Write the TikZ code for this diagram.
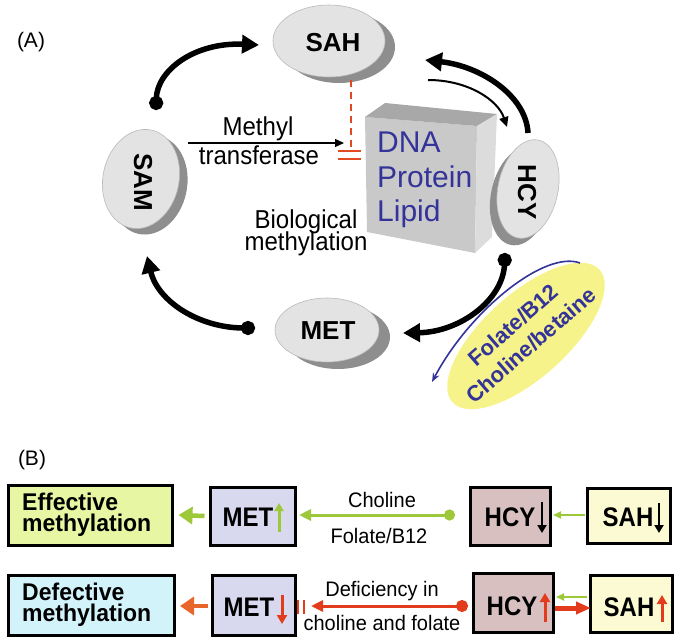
\documentclass[tikz,border=0pt]{standalone}
\usepackage{fontspec}
\setmainfont{Liberation Sans}
\usetikzlibrary{arrows.meta,shapes.geometric,calc}
\definecolor{ellfill}{HTML}{E3E3E3}
\definecolor{ellshadow}{HTML}{8E8E8E}
\definecolor{dnablue}{HTML}{333399}
\definecolor{inhred}{HTML}{E04A22}
\definecolor{lime}{HTML}{9CC83A}
\definecolor{orng}{HTML}{E8662A}
\definecolor{bred}{HTML}{E23C1C}
\definecolor{yell}{HTML}{F6F38A}
\definecolor{boxfront}{HTML}{C9C9C9}
\definecolor{boxtop}{HTML}{A8A8A8}
\definecolor{boxside}{HTML}{DCDCDC}
\definecolor{effill}{HTML}{E6F6A2}
\definecolor{defill}{HTML}{D3F3FA}
\definecolor{metfill}{HTML}{D8D9EF}
\definecolor{hcyfill}{HTML}{D9C0C0}
\definecolor{sahfill}{HTML}{FBFAD2}
\begin{document}
\begin{tikzpicture}[x=1pt,y=-1pt,
  ell/.style={ellipse, draw=gray!55, line width=0.6pt, fill=ellfill, inner sep=0pt},
  ellsh/.style={ellipse, fill=ellshadow, inner sep=0pt},
  elltxt/.style={font=\fontsize{26}{26}\selectfont\bfseries, inner sep=0pt},
  dotarrow/.style={line width=5.5pt, {Circle[length=14pt]}-{Triangle[length=17pt,width=18pt]}},
  thickarrow/.style={line width=5.5pt, -{Triangle[length=17pt,width=18pt]}},
  lbl/.style={font=\fontsize{24}{22}\selectfont, inner sep=0pt, yscale=1.08},
  bbox/.style={draw=black, line width=3pt, inner sep=0pt},
  btxt/.style={font=\fontsize{24}{24}\selectfont\bfseries, inner sep=0pt, yscale=1.12},
  blbl/.style={font=\fontsize{20}{20}\selectfont, inner sep=0pt, yscale=1.05},
  ytxt/.style={font=\fontsize{22}{27}\selectfont\bfseries, text=dnablue, rotate=41, inner sep=0pt, align=center},
]
\useasboundingbox (0,0) rectangle (679,644);

% ---------- (A) ----------
\node[font=\fontsize{21}{21}\selectfont, inner sep=0pt] (labA) at (31,42) {(A)};

% central 3D box
\fill[boxfront] (365,117) -- (477,126) -- (475,253) -- (367,232) -- cycle;
\fill[boxtop] (365,117) -- (385,103) -- (497,114) -- (477,126) -- cycle;
\fill[boxside] (477,126) -- (497,114) -- (492,237) -- (475,253) -- cycle;
\node[anchor=base west, font=\fontsize{30}{30}\selectfont, text=dnablue, inner sep=0pt] (dna) at (377,153) {DNA};
\node[anchor=base west, font=\fontsize{30}{30}\selectfont, text=dnablue, inner sep=0pt] (prot) at (377,188) {Protein};
\node[anchor=base west, font=\fontsize{30}{30}\selectfont, text=dnablue, inner sep=0pt] (lip) at (377,222) {Lipid};

% yellow ellipse
\node[ellipse, fill=yell, minimum width=198, minimum height=84, rotate=42, inner sep=0pt] (yel) at (526,336) {};
\node[ytxt] (fol) at (522,335) {Folate/B12\\Choline/betaine};

% ellipses
\node[ellsh, minimum width=112, minimum height=72] (sahsh) at (339,47) {};
\node[ell, minimum width=112, minimum height=72] (sah) at (329,41) {};
\node[elltxt] (sahtxt) at (333,43) {SAH};

\node[ellsh, minimum width=76, minimum height=100, rotate=-12] (samsh) at (149,185) {};
\node[ell, minimum width=76, minimum height=100, rotate=-12] (sam) at (141,179) {};
\node[elltxt, rotate=-90] (samtxt) at (143,182) {SAM};

\node[ellsh, minimum width=60, minimum height=100, rotate=-12] (hcysh) at (521,196) {};
\node[ell, minimum width=60, minimum height=100, rotate=-12] (hcy) at (528,189) {};
\node[elltxt, rotate=-90] (hcytxt) at (527,192) {HCY};

\node[ellsh, minimum width=104, minimum height=64] (metsh) at (338,337) {};
\node[ell, minimum width=104, minimum height=64] (met) at (327,330) {};
\node[elltxt] (mettxt) at (328,331) {MET};

% methyl transferase arrow
\coordinate (mtA) at (188,143);
\coordinate (mtB) at (344,143);
\draw[line width=1.4pt, -{Triangle[length=9pt,width=8pt]}] (mtA) -- (mtB);
\node[lbl, anchor=base] (methyl) at (258,136) {Methyl};
\node[lbl, anchor=base] (transf) at (259,165) {transferase};
\node[lbl, anchor=base] (bio) at (306,229) {Biological};
\node[lbl, anchor=base] (bmeth) at (306,251) {methylation};

% red inhibition
\coordinate (inhA) at (351,80);
\coordinate (inhB) at (351,150);
\draw[inhred, line width=2pt, dash pattern=on 7pt off 5pt] (inhA) -- (inhB);
\coordinate (barA1) at (338,151); \coordinate (barA2) at (361,151);
\coordinate (barB1) at (338,159); \coordinate (barB2) at (361,159);
\draw[inhred, line width=2pt] (barA1) -- (barA2);
\draw[inhred, line width=2pt] (barB1) -- (barB2);

% cycle arrows
\coordinate (c1a) at (156,110);
\coordinate (c1b) at (259,45);
\draw[dotarrow] (c1a) .. controls (157,70) and (195,42) .. (c1b);

\coordinate (c2a) at (255,328);
\coordinate (c2b) at (147,256);
\draw[dotarrow] (c2a) .. controls (200,328) and (158,302) .. (c2b);

\coordinate (c3a) at (528,133);
\coordinate (c3b) at (425,60);
\draw[thickarrow] (c3a) .. controls (526,95) and (480,66) .. (c3b);

\coordinate (c4a) at (428,80);
\coordinate (c4b) at (507,127);
\draw[line width=2pt, -{Triangle[length=10pt,width=9pt]}] (c4a) .. controls (468,80) and (498,100) .. (c4b);

\coordinate (c5a) at (505,253);
\coordinate (c5b) at (403,333);
\draw[dotarrow] (c5a) .. controls (503,300) and (460,332) .. (c5b);

\coordinate (blA) at (580,263);
\coordinate (blB) at (432,382);
\draw[dnablue, line width=1.6pt, -{Stealth[length=9pt,width=7pt]}] (blA) .. controls (545,250) and (470,310) .. (blB);

% ---------- (B) ----------
\node[font=\fontsize{21}{21}\selectfont, inner sep=0pt] (labB) at (32,460) {(B)};

% row 1
\node[bbox, fill=effill, minimum width=164, minimum height=60] (eff) at (90,515) {};
\node[anchor=west, align=left, font=\fontsize{23}{20}\selectfont\bfseries, inner sep=0pt, yscale=1.05] (efftxt) at (22,515) {Effective\\methylation};
\node[bbox, fill=metfill, minimum width=85, minimum height=58] (met1) at (252.5,516) {};
\node[btxt] (met1t) at (248,517) {MET};
\node[bbox, fill=hcyfill, minimum width=80, minimum height=58] (hcy1) at (510,516) {};
\node[btxt] (hcy1t) at (510,517) {HCY};
\node[bbox, fill=sahfill, minimum width=83, minimum height=55] (sah1) at (628.5,515.5) {};
\node[btxt] (sah1t) at (628,517) {SAH};

\coordinate (m1u1) at (279,532); \coordinate (m1u2) at (279,503);
\draw[lime, line width=3pt, -{Triangle[length=8pt,width=9pt]}] (m1u1) -- (m1u2);
\coordinate (h1d1) at (542,502); \coordinate (h1d2) at (542,533);
\draw[black, line width=2.5pt, -{Triangle[length=8pt,width=9pt]}] (h1d1) -- (h1d2);
\coordinate (s1d1) at (659,503); \coordinate (s1d2) at (659,533);
\draw[black, line width=2.5pt, -{Triangle[length=8pt,width=9pt]}] (s1d1) -- (s1d2);

\coordinate (ga1) at ($(met1.west)+(-4,0)$);
\coordinate (ga2) at ($(eff.east)+(5,0)$);
\draw[lime, line width=4.5pt, -{Triangle[length=14pt,width=17pt]}] (ga1) -- (ga2);
\coordinate (g1a) at (455,515);
\coordinate (g1b) at (299,515);
\draw[lime, line width=3pt, {Circle[length=11pt]}-{Triangle[length=12pt,width=11pt]}] (g1a) -- (g1b);
\node[blbl] (chl) at (382,500) {Choline};
\node[blbl] (fb12) at (379,536) {Folate/B12};
\coordinate (g2a) at (585,515);
\coordinate (g2b) at (553,515);
\draw[lime, line width=2pt, -{Triangle[length=8pt,width=7pt]}] (g2a) -- (g2b);

% row 2
\node[bbox, fill=defill, minimum width=166, minimum height=60] (def) at (91,605) {};
\node[anchor=west, align=left, font=\fontsize{23}{20}\selectfont\bfseries, inner sep=0pt, yscale=1.05] (deftxt) at (22,605) {Defective\\methylation};
\node[bbox, fill=metfill, minimum width=83, minimum height=60] (met2) at (253.5,605) {};
\node[btxt] (met2t) at (249,607) {MET};
\node[bbox, fill=hcyfill, minimum width=80, minimum height=59] (hcy2) at (513,602.5) {};
\node[btxt] (hcy2t) at (512,606) {HCY};
\node[bbox, fill=sahfill, minimum width=82, minimum height=57] (sah2) at (631,603.5) {};
\node[btxt] (sah2t) at (629,607) {SAH};

\coordinate (m2d1) at (282,595); \coordinate (m2d2) at (282,624);
\draw[bred, line width=3pt, -{Triangle[length=9pt,width=10pt]}] (m2d1) -- (m2d2);
\coordinate (h2u1) at (545,622); \coordinate (h2u2) at (545,593);
\draw[bred, line width=3pt, -{Triangle[length=9pt,width=10pt]}] (h2u1) -- (h2u2);
\coordinate (s2u1) at (662,622); \coordinate (s2u2) at (662,595);
\draw[bred, line width=3pt, -{Triangle[length=9pt,width=10pt]}] (s2u1) -- (s2u2);

\coordinate (o1a) at (208,606);
\coordinate (o1b) at (180,606);
\draw[orng, line width=4.5pt, -{Triangle[length=14pt,width=18pt]}] (o1a) -- (o1b);
\coordinate (r1a) at (468,606);
\coordinate (r1b) at (311,606);
\draw[bred, line width=3pt, {Circle[length=12pt]}-{Triangle[length=12pt,width=11pt]}] (r1a) -- (r1b);
\coordinate (bar1a) at (298,600); \coordinate (bar1b) at (298,614);
\coordinate (bar2a) at (304,600); \coordinate (bar2b) at (304,614);
\draw[bred, line width=1.6pt] (bar1a) -- (bar1b);
\draw[bred, line width=1.6pt] (bar2a) -- (bar2b);
\node[blbl] (defi) at (382,591) {Deficiency in};
\node[blbl] (chf) at (382,623) {choline and folate};

\coordinate (g3a) at (587,597);
\coordinate (g3b) at (556,597);
\draw[lime, line width=1.8pt, -{Triangle[length=8pt,width=7pt]}] (g3a) -- (g3b);
\coordinate (r2a) at (555,608);
\coordinate (r2b) at (591,608);
\draw[bred, line width=5pt, -{Triangle[length=15pt,width=12pt]}] (r2a) -- (r2b);

\end{tikzpicture}
\end{document}
